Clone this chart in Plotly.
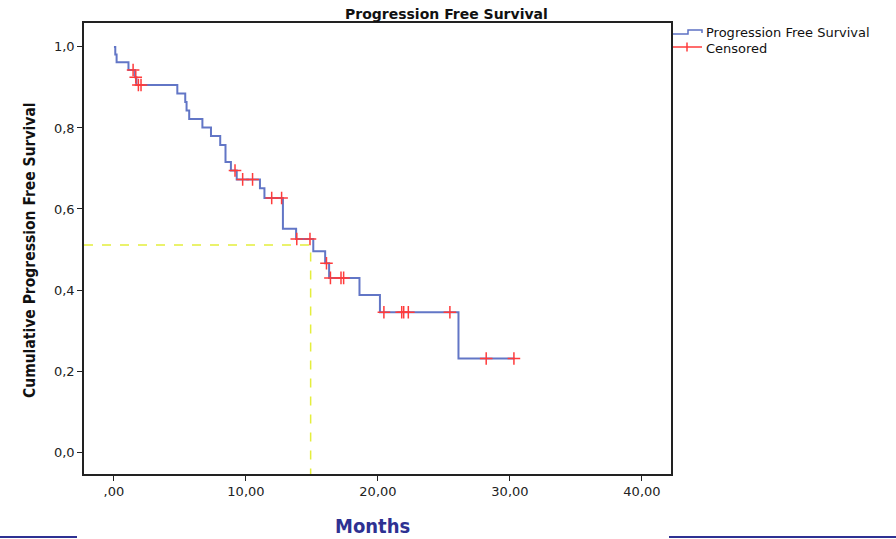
import plotly.graph_objects as go

# ---- data ----
event_times = [0.0, 0.1, 0.2, 1.1, 1.6, 1.7, 4.8, 5.4, 5.5, 5.7, 6.7, 7.35, 8.05, 8.45,
               8.86, 9.3, 11.06, 11.4, 12.8, 13.8, 15.1, 16.0, 16.3, 18.6, 20.15, 26.1, 30.35]
survival = [1.0, 0.981, 0.962, 0.943, 0.925, 0.906, 0.885, 0.864, 0.843, 0.822, 0.801, 0.780,
            0.758, 0.716, 0.695, 0.673, 0.651, 0.627, 0.551, 0.526, 0.496, 0.466, 0.430,
            0.388, 0.345, 0.231, 0.231]
censor_times = [1.45, 1.65, 1.85, 2.05, 9.17, 9.75, 10.5, 11.95, 12.7, 13.85, 14.85, 16.1,
                16.4, 17.2, 17.4, 20.45, 21.8, 21.95, 22.3, 25.45, 28.2, 30.3]
censor_surv = [0.943, 0.925, 0.906, 0.906, 0.695, 0.673, 0.673, 0.627, 0.627, 0.526, 0.526,
               0.466, 0.430, 0.430, 0.430, 0.345, 0.345, 0.345, 0.345, 0.345, 0.231, 0.231]
median_time = 14.9
median_level = 0.511
x_ticks = [0, 10, 20, 30, 40]
x_tick_labels = [",00", "10,00", "20,00", "30,00", "40,00"]
y_ticks = [0.0, 0.2, 0.4, 0.6, 0.8, 1.0]
y_tick_labels = ["0,0", "0,2", "0,4", "0,6", "0,8", "1,0"]

W, H = 896, 539
L, R, T, B = 84, 671, 23, 474

def px(x):
    return (x - L) / (R - L)

def py(y):
    return (B - y) / (B - T)

fig = go.Figure()

# median guide lines (dashed yellow)
fig.add_trace(go.Scatter(x=[-2.27, median_time, median_time], y=[median_level, median_level, -0.054],
                         mode="lines", line=dict(color="#e4ee3c", width=1.5, dash="dash"),
                         hoverinfo="skip", showlegend=False))

fig.add_trace(go.Scatter(x=event_times, y=survival, mode="lines", line_shape="hv",
                         line=dict(color="#6276c6", width=2), name="Progression Free Survival",
                         showlegend=False))

fig.add_trace(go.Scatter(x=censor_times, y=censor_surv, mode="markers",
                         marker=dict(symbol="cross-thin", size=9,
                                     line=dict(color="#ff3b3b", width=1.5)),
                         name="Censored", showlegend=False))

tick_font = dict(family="DejaVu Sans, Verdana", size=13, color="#222")
fig.update_xaxes(range=[-2.27, 42.2], tickvals=x_ticks, ticktext=x_tick_labels,
                 showgrid=False, zeroline=False, showline=True, linecolor="#222", linewidth=1.5,
                 mirror=True, ticks="outside", ticklen=5, tickcolor="#222", tickfont=tick_font)
fig.update_yaxes(range=[-0.054, 1.059], tickvals=y_ticks, ticktext=y_tick_labels,
                 showgrid=False, zeroline=False, showline=True, linecolor="#222", linewidth=1.5,
                 mirror=True, ticks="outside", ticklen=5, tickcolor="#222", tickfont=tick_font)

shapes = []
# legend icons
shapes.append(dict(type="path", xref="paper", yref="paper",
                   path=f"M {px(673)} {py(34)} L {px(688)} {py(34)} L {px(688)} {py(30)} L {px(702)} {py(30)} L {px(702)} {py(33)}",
                   line=dict(color="#5d72c4", width=1.5)))
shapes.append(dict(type="line", xref="paper", yref="paper", x0=px(673), x1=px(702), y0=py(47), y1=py(47),
                   line=dict(color="#ff3b3b", width=1.5)))
shapes.append(dict(type="line", xref="paper", yref="paper", x0=px(687), x1=px(687), y0=py(42.5), y1=py(51.5),
                   line=dict(color="#ff3b3b", width=1.5)))
# bottom decorative lines
shapes.append(dict(type="line", xref="paper", yref="paper", x0=px(0), x1=px(77), y0=py(537), y1=py(537),
                   line=dict(color="#2e3192", width=2)))
shapes.append(dict(type="line", xref="paper", yref="paper", x0=px(669), x1=px(896), y0=py(537), y1=py(537),
                   line=dict(color="#2e3192", width=2)))

narrow = "Liberation Sans Narrow, DejaVu Sans Condensed, Liberation Sans"
annotations = [
    dict(text="<b>Progression Free Survival</b>", x=px(446), y=py(14), xref="paper", yref="paper",
         showarrow=False, font=dict(family="DejaVu Sans, Verdana", size=14, color="#111"),
         xanchor="center", yanchor="middle"),
    dict(text="<b>Cumulative Progression Free Survival</b>", x=px(30), y=py(250), xref="paper", yref="paper",
         showarrow=False, textangle=-90, font=dict(family=narrow, size=15.5, color="#111"),
         xanchor="center", yanchor="middle"),
    dict(text="<b>Months</b>", x=px(372), y=py(526), xref="paper", yref="paper",
         showarrow=False, font=dict(family=narrow, size=20, color="#2e3192"),
         xanchor="center", yanchor="middle"),
    dict(text="Progression Free Survival", x=px(704), y=py(32.5), xref="paper", yref="paper",
         showarrow=False, font=dict(family="DejaVu Sans, Verdana", size=13, color="#111"),
         xanchor="left", yanchor="middle"),
    dict(text="Censored", x=px(704), y=py(48), xref="paper", yref="paper",
         showarrow=False, font=dict(family="DejaVu Sans, Verdana", size=13, color="#111"),
         xanchor="left", yanchor="middle"),
]

fig.update_layout(width=W, height=H, margin=dict(l=L, r=W - R, t=T, b=H - B, pad=0),
                  plot_bgcolor="white", paper_bgcolor="white", showlegend=False,
                  shapes=shapes, annotations=annotations)

fig.write_html("out.html", config={"displayModeBar": False},
               post_script="document.body.style.margin='0';")
